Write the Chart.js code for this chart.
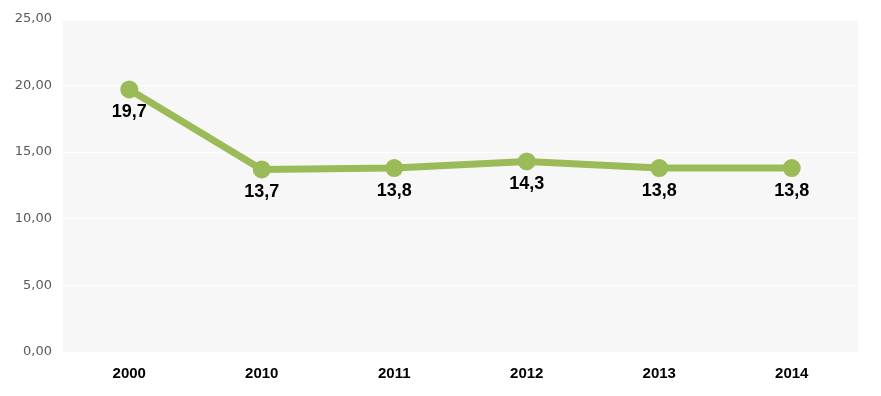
<!DOCTYPE html>
<html lang="pt">
<head>
    <meta charset="UTF-8">
    <script src="https://cdn.jsdelivr.net/npm/chart.js"></script>
    <style>
        html, body { margin: 0; padding: 0; background: #fff; }
        #wrap { width: 881px; height: 396px; }
    </style>
</head>
<body>
    <div id="wrap"><canvas id="grafico"></canvas></div>
<script>
    const anos = ['2000', '2010', '2011', '2012', '2013', '2014'];
    const valores = [19.7, 13.7, 13.8, 14.3, 13.8, 13.8];
    const ticksY = [0, 5, 10, 15, 20, 25];

    const formatar = (v, casas) => v.toFixed(casas).replace('.', ',');

    // fundo cinza da area do grafico
    const fundo = {
        id: 'fundo',
        beforeDraw(chart) {
            const a = chart.chartArea, c = chart.ctx;
            c.save();
            c.fillStyle = '#f7f7f7';
            c.fillRect(a.left, a.top + 2, a.right - a.left, a.bottom - a.top - 2);
            c.restore();
        }
    };

    // rotulos abaixo dos pontos
    const rotulos = {
        id: 'rotulos',
        afterDatasetsDraw(chart) {
            const c = chart.ctx;
            const meta = chart.getDatasetMeta(0);
            c.save();
            c.font = 'bold 18px "Liberation Sans", Arial, sans-serif';
            c.fillStyle = '#000';
            c.textAlign = 'center';
            c.textBaseline = 'middle';
            meta.data.forEach((p, i) => {
                c.fillText(formatar(valores[i], 1), p.x, p.y + 23);
            });
            c.restore();
        }
    };

    new Chart(document.getElementById('grafico'), {
        type: 'line',
        data: {
            labels: anos,
            datasets: [{
                data: valores,
                borderColor: '#9bbb59',
                backgroundColor: '#9bbb59',
                borderWidth: 7,
                pointRadius: 9,
                pointHoverRadius: 9,
                pointBorderWidth: 0,
                tension: 0
            }]
        },
        options: {
            responsive: true,
            maintainAspectRatio: false,
            animation: false,
            layout: { padding: { top: 15, right: 23, left: 0, bottom: 0 } },
            plugins: { legend: { display: false }, tooltip: { enabled: false } },
            scales: {
                x: {
                    offset: true,
                    grid: { display: false, drawTicks: false },
                    border: { display: false },
                    ticks: {
                        padding: 13,
                        color: '#000',
                        font: { family: '"Liberation Sans", Arial, sans-serif', size: 15, weight: 'bold' }
                    },
                    afterFit(s) { s.height = 44; }
                },
                y: {
                    min: 0,
                    max: 25,
                    afterBuildTicks(s) { s.ticks = ticksY.map(v => ({ value: v })); },
                    grid: { color: '#ffffff', lineWidth: 1, drawTicks: false },
                    border: { display: false },
                    ticks: {
                        padding: 11,
                        color: '#595959',
                        font: { family: '"DejaVu Sans", sans-serif', size: 13 },
                        callback: v => formatar(v, 2)
                    },
                    afterFit(s) { s.width = 63; }
                }
            }
        },
        plugins: [fundo, rotulos]
    });
</script>
</body>
</html>
